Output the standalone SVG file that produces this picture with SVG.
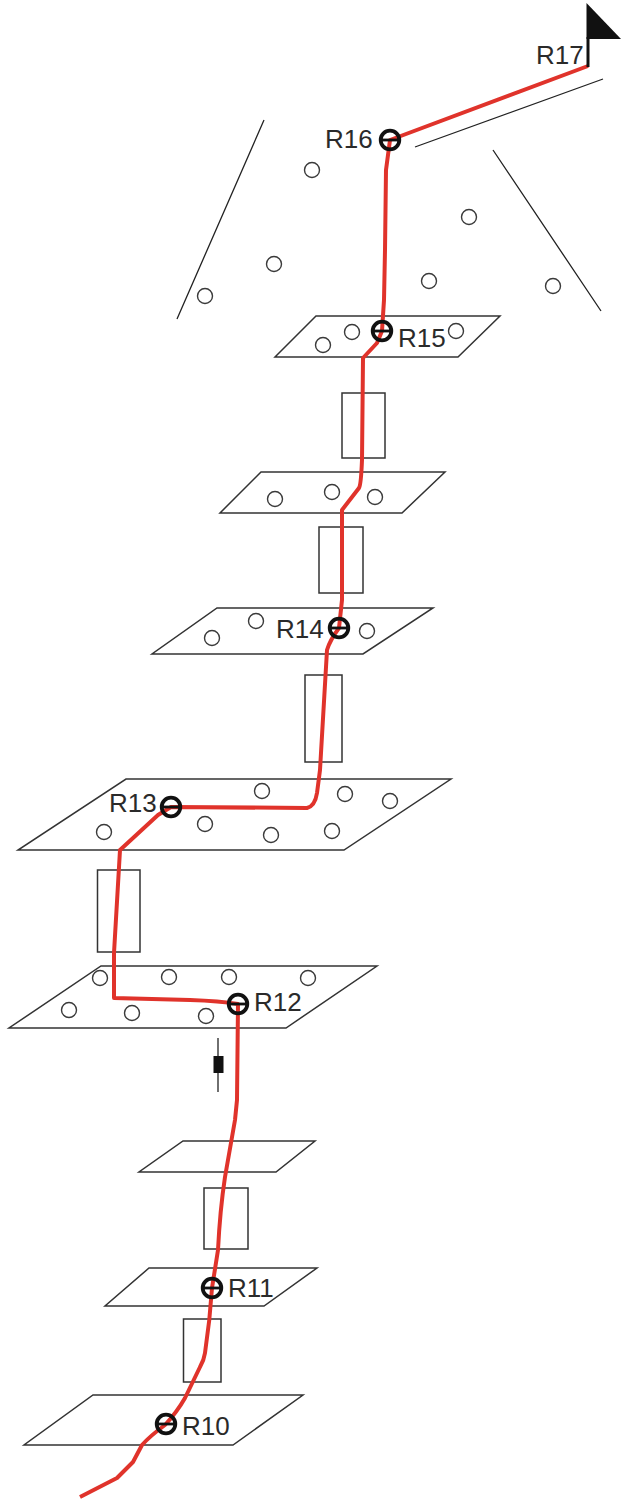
<svg xmlns="http://www.w3.org/2000/svg" width="621" height="1505" viewBox="0 0 621 1505">
<style>
.p{fill:#fff;stroke:#333;stroke-width:1.5}
.c{fill:#fff;stroke:#3a3a3a;stroke-width:1.4}
.l{fill:none;stroke:#222;stroke-width:1.3}
.r{fill:none;stroke:#e0332b;stroke-width:4;stroke-linejoin:round;stroke-linecap:butt}
.m circle{fill:none;stroke:#111;stroke-width:3.8}
.m line{stroke:#111;stroke-width:2.8}
text{font-family:"Liberation Sans",Arial,sans-serif;font-size:26px;fill:#2a2a2a}
</style>
<defs>
<g id="mk" class="m"><circle r="9.300"/><line x1="-9" x2="9" y1="0" y2="0"/></g>
</defs>
<g id="background-lines">
<path class="l" d="M264 120L177 319M493 150L601 311M415 147L603 79"/>
<circle class="c" cx="312" cy="170" r="7.500"/><circle class="c" cx="469" cy="217" r="7.500"/><circle class="c" cx="274" cy="264" r="7.500"/><circle class="c" cx="429" cy="281" r="7.500"/><circle class="c" cx="205" cy="296" r="7.500"/><circle class="c" cx="553" cy="286" r="7.500"/>
</g>
<g id="plate-r15"><path class="p" d="M316 316H500L458 357H275Z"/><circle class="c" cx="352" cy="332" r="7.500"/><circle class="c" cx="456" cy="331" r="7.500"/><circle class="c" cx="323" cy="345" r="7.500"/></g>
<g id="box-1"><rect class="p" x="342" y="393" width="43" height="65"/></g>
<g id="plate-2"><path class="p" d="M261 472H445L402 513H220Z"/><circle class="c" cx="275" cy="499" r="7.500"/><circle class="c" cx="332" cy="492" r="7.500"/><circle class="c" cx="375" cy="497" r="7.500"/></g>
<g id="box-2"><rect class="p" x="319" y="527" width="44" height="66"/></g>
<g id="plate-r14"><path class="p" d="M217 608H433L363 654H152Z"/><circle class="c" cx="212" cy="638" r="7.500"/><circle class="c" cx="256" cy="621" r="7.500"/><circle class="c" cx="367" cy="631" r="7.500"/></g>
<g id="box-3"><rect class="p" x="305" y="675" width="37" height="87"/></g>
<g id="plate-r13"><path class="p" d="M126 779H451L344 850H18Z"/><circle class="c" cx="262" cy="791" r="7.500"/><circle class="c" cx="345" cy="794" r="7.500"/><circle class="c" cx="390" cy="801" r="7.500"/><circle class="c" cx="104" cy="832" r="7.500"/><circle class="c" cx="205" cy="824" r="7.500"/><circle class="c" cx="271" cy="835" r="7.500"/><circle class="c" cx="332" cy="831" r="7.500"/></g>
<g id="box-4"><rect class="p" x="97.500" y="870" width="42.500" height="82"/></g>
<g id="plate-r12"><path class="p" d="M101 966H377L286 1028H9Z"/><circle class="c" cx="100" cy="978" r="7.500"/><circle class="c" cx="169" cy="977" r="7.500"/><circle class="c" cx="229" cy="977" r="7.500"/><circle class="c" cx="308" cy="978" r="7.500"/><circle class="c" cx="69" cy="1010" r="7.500"/><circle class="c" cx="132" cy="1013" r="7.500"/><circle class="c" cx="206" cy="1016" r="7.500"/></g>
<g id="resistor"><path class="l" d="M218 1038V1092"/><rect x="213.500" y="1056" width="10" height="17" fill="#111"/></g>
<g id="plate-5"><path class="p" d="M183 1141H315L276 1172H139Z"/></g>
<g id="box-5"><rect class="p" x="204" y="1188" width="44" height="61"/></g>
<g id="plate-r11"><path class="p" d="M149 1268H317L264 1306H105Z"/></g>
<g id="box-6"><rect class="p" x="183.500" y="1319" width="37.500" height="63"/></g>
<g id="plate-r10"><path class="p" d="M93 1395H303L233 1445H24Z"/></g>
<g id="connectors">
<path class="r" d="M80 1497L117 1478L133 1462L142 1445Q150 1436 165 1425Q177 1412 185 1398L200 1367Q204 1360 205 1353Q210 1320 212 1288L218 1250Q220 1210 225 1177L235 1120L237 1100L238 1004Q220 1001 190 1000L114 998L114 953L120 850L158 815L171 807L307 808Q315 806 317 793L320 770L327 650Q330 640 339 628L342 600L342 510L359 488Q361 485 362 460L363 358L377 343L382 331L384 300L385 250L386 170L390 140L588 66"/>
</g>
<g id="flag"><path d="M588 67V37" fill="none" stroke="#111" stroke-width="3"/><path d="M586.500 3L621 39H586.500Z" fill="#111"/></g>
<g id="R10"><use href="#mk" x="166" y="1424"/><text x="182" y="1435">R10</text></g>
<g id="R11"><use href="#mk" x="212" y="1288"/><text x="228" y="1297">R11</text></g>
<g id="R12"><use href="#mk" x="238" y="1004"/><text x="254" y="1011">R12</text></g>
<g id="R13"><use href="#mk" x="171" y="807"/><text x="109" y="812">R13</text></g>
<g id="R14"><use href="#mk" x="339" y="628"/><text x="276" y="638">R14</text></g>
<g id="R15"><use href="#mk" x="382" y="331"/><text x="398" y="347">R15</text></g>
<g id="R16"><use href="#mk" x="390" y="140"/><text x="325" y="148">R16</text></g>
<g id="R17"><text x="536" y="64">R17</text></g>
</svg>
